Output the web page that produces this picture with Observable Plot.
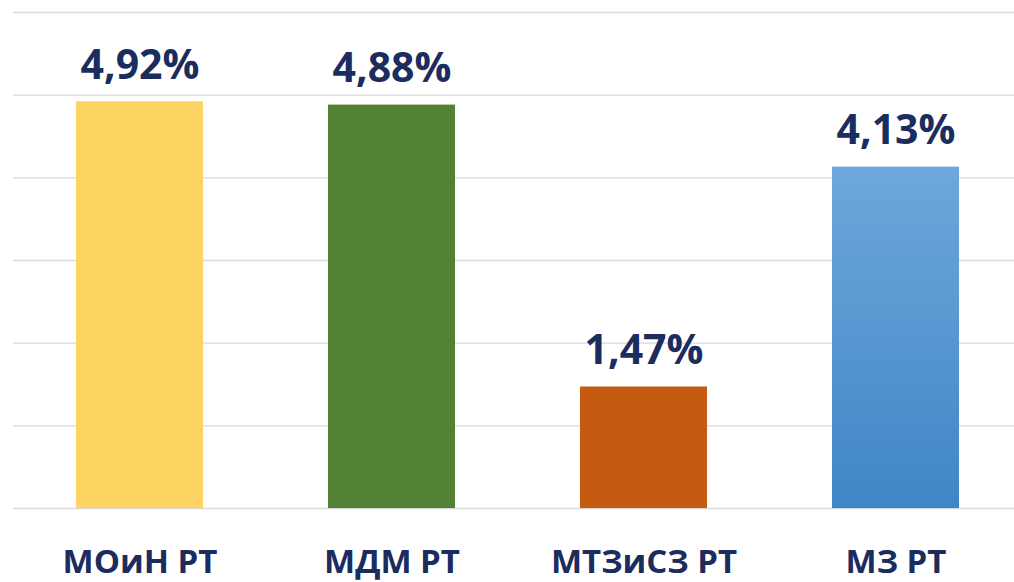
<!DOCTYPE html>
<html>
<head>
<meta charset="utf-8">
<script src="https://cdn.jsdelivr.net/npm/d3@7"></script>
<script src="https://cdn.jsdelivr.net/npm/@observablehq/plot@0.6"></script>
<style>
  html, body { margin: 0; padding: 0; background: #fff; }
  #chart { width: 1014px; height: 582px; }
  svg { font-family: "Open Sans", "DejaVu Sans", sans-serif; }
</style>
</head>
<body>
<div id="chart"></div>
<script>
const categories = ["МОиН РТ", "МДМ РТ", "МТЗиСЗ РТ", "МЗ РТ"];
const values = [4.92, 4.88, 1.47, 4.13];
const colors = ["#FDD462", "#548235", "#C55A11", "url(#blueGrad)"];
const yTicks = [0, 1, 2, 3, 4, 5, 6];

const data = categories.map((c, i) => ({category: c, value: values[i], color: colors[i]}));
const fmt = v => v.toFixed(2).replace(".", ",") + "%";

const chart = Plot.plot({
  width: 1014,
  height: 582,
  marginTop: 12,
  marginBottom: 74,
  marginLeft: 13,
  marginRight: 0,
  style: {background: "#fff"},
  x: {domain: categories, paddingInner: 0.496, paddingOuter: 0.234, align: 0.534, label: null},
  y: {domain: [0, 6], label: null},
  marks: [
    Plot.ruleY(yTicks, {stroke: "#d9d9d9", strokeWidth: 1.3}),
    Plot.barY(data, {
      x: "category", y: "value", fill: "color",
      style: {filter: "drop-shadow(1px 1px 2px rgba(0,0,0,0.25))"}
    }),
    Plot.text(data, {
      x: "category", y: "value", text: d => fmt(d.value),
      lineAnchor: "bottom", dy: -23,
      fontSize: 41, fontWeight: "bold", fill: "#1b2c5e"
    }),
    Plot.axisX({
      tickSize: 0, tickPadding: 41, fontSize: 33, fontWeight: "bold",
      color: "#1b2c5e", label: null
    }),
    Plot.axisY({ticks: [], label: null})
  ]
});

const svg = d3.select(chart);
const defs = svg.insert("defs", ":first-child");
const g = defs.append("linearGradient").attr("id", "blueGrad")
  .attr("x1", 0).attr("y1", 0).attr("x2", 0).attr("y2", 1);
g.append("stop").attr("offset", "0%").attr("stop-color", "#6EA7DB");
g.append("stop").attr("offset", "100%").attr("stop-color", "#3F86C6");

document.getElementById("chart").appendChild(chart);
</script>
</body>
</html>
